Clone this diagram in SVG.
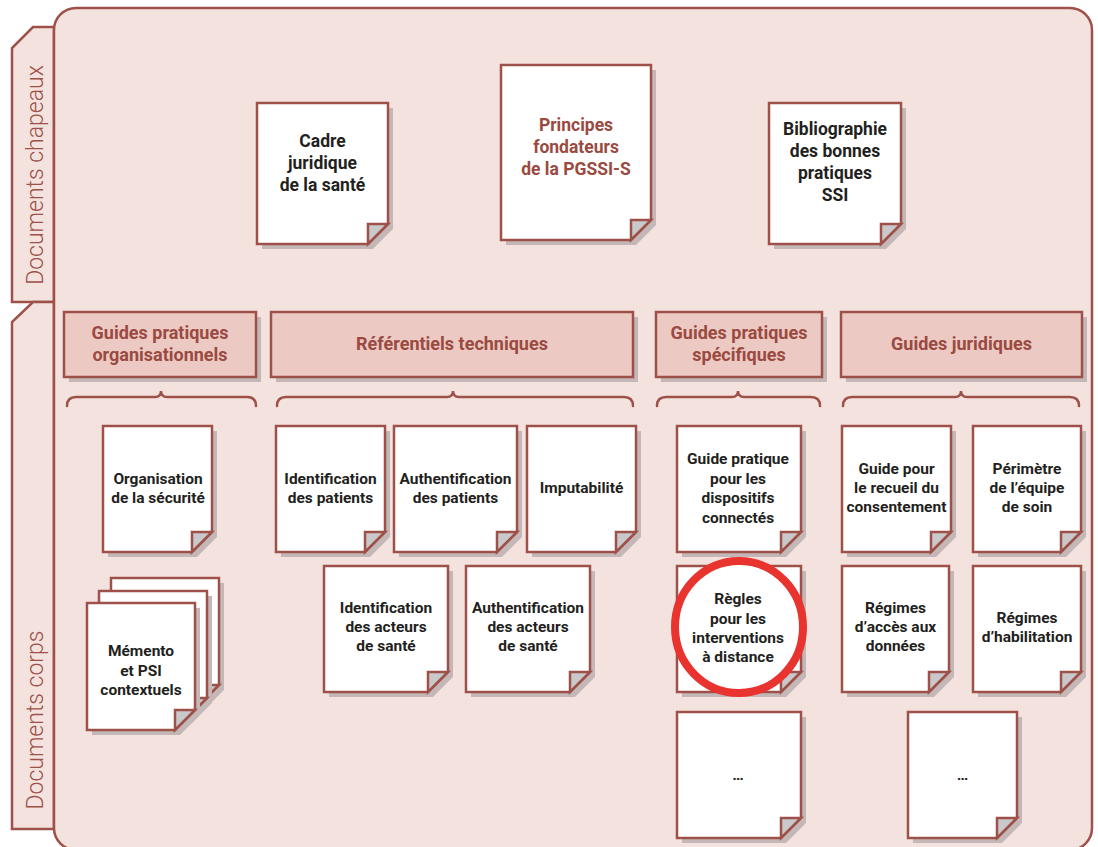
<svg xmlns="http://www.w3.org/2000/svg" width="1098" height="847" viewBox="0 0 1098 847">
<style>
.bg{fill:#f4e2df;stroke:#9e5148;stroke-width:2.5}
.tab{fill:#f4e2df;stroke:#9e5148;stroke-width:2.5;stroke-linejoin:miter}
.tabt{font-family:Roboto,"Liberation Sans",sans-serif;font-weight:300;font-size:23px;fill:#9e5148;text-anchor:middle}
.sh{fill:#c3b7b7}
.page{fill:#ffffff;stroke:#9e5148;stroke-width:2.5;stroke-linejoin:miter}
.fold{fill:#c9c9cb;stroke:#9e5148;stroke-width:2.5;stroke-linejoin:miter}
.hdr{fill:#ecc9c3;stroke:#9e5148;stroke-width:2.5}
.hdrt{font-family:Roboto,"Liberation Sans",sans-serif;font-weight:700;font-size:18px;fill:#9a4a41;text-anchor:middle}
.top{font-family:Roboto,"Liberation Sans",sans-serif;font-weight:700;font-size:17.5px;fill:#231f20;text-anchor:middle}
.topb{fill:#9a4a41}
.t{font-family:Roboto,"Liberation Sans",sans-serif;font-weight:700;font-size:15.5px;fill:#231f20;text-anchor:middle}
.brace{fill:none;stroke:#9e5148;stroke-width:2.5;stroke-linecap:round}
.ring{fill:#ffffff;stroke:#e8332f;stroke-width:8}
</style>

<g id="tab-chapeaux">
<path class="tab" d="M54,27 H33 L12,48 V302 H54 Z"/>
<text class="tabt" transform="translate(42.5,175) rotate(-90)">Documents chapeaux</text>
</g>
<g id="tab-corps">
<path class="tab" d="M54,302 H33 L12,322 V829 H54 Z"/>
<text class="tabt" transform="translate(42.5,720) rotate(-90)">Documents corps</text>
</g>

<rect id="frame" class="bg" x="54" y="8" width="1038" height="842" rx="22" ry="22"/>

<!-- top documents -->
<g id="cadre" transform="translate(257,103)">
<path class="sh" d="M5,5 h131 v121 l-20,20 h-111 z"/>
<path class="page" d="M0,0 h131 v121 l-20,20 h-111 z"/>
<path class="fold" d="M111,141 v-20 h20 z"/>
<text class="top" x="65.5" y="44">Cadre</text>
<text class="top" x="65.5" y="66">juridique</text>
<text class="top" x="65.5" y="88">de la santé</text>
</g>
<g id="principes" transform="translate(501,65)">
<path class="sh" d="M5,5 h150 v155 l-20,20 h-130 z"/>
<path class="page" d="M0,0 h150 v155 l-20,20 h-130 z"/>
<path class="fold" d="M130,175 v-20 h20 z"/>
<text class="top topb" x="75" y="66">Principes</text>
<text class="top topb" x="75" y="88">fondateurs</text>
<text class="top topb" x="75" y="110">de la PGSSI-S</text>
</g>
<g id="bibliographie" transform="translate(769,103)">
<path class="sh" d="M5,5 h132 v121 l-20,20 h-112 z"/>
<path class="page" d="M0,0 h132 v121 l-20,20 h-112 z"/>
<path class="fold" d="M112,141 v-20 h20 z"/>
<text class="top" x="66" y="32">Bibliographie</text>
<text class="top" x="66" y="54">des bonnes</text>
<text class="top" x="66" y="76">pratiques</text>
<text class="top" x="66" y="98">SSI</text>
</g>

<!-- headers -->
<g id="hdr-org">
<rect class="sh" x="69" y="317" width="192" height="65"/>
<rect class="hdr" x="64" y="312" width="192" height="65"/>
<text class="hdrt" x="160" y="339">Guides pratiques</text>
<text class="hdrt" x="160" y="361">organisationnels</text>
</g>
<g id="hdr-ref">
<rect class="sh" x="276" y="317" width="362" height="65"/>
<rect class="hdr" x="271" y="312" width="362" height="65"/>
<text class="hdrt" x="452" y="350">Référentiels techniques</text>
</g>
<g id="hdr-spec">
<rect class="sh" x="661" y="317" width="166" height="65"/>
<rect class="hdr" x="656" y="312" width="166" height="65"/>
<text class="hdrt" x="739" y="339">Guides pratiques</text>
<text class="hdrt" x="739" y="361">spécifiques</text>
</g>
<g id="hdr-jur">
<rect class="sh" x="846" y="317" width="241" height="65"/>
<rect class="hdr" x="841" y="312" width="241" height="65"/>
<text class="hdrt" x="961.5" y="350">Guides juridiques</text>
</g>

<!-- braces -->
<g id="connectors">
<path class="brace" d="M67,406 Q67,397 76,397 H155 Q161,397 161,391 Q161,397 167,397 H247 Q256,397 256,406"/>
<path class="brace" d="M277,406 Q277,397 286,397 H447 Q453,397 453,391 Q453,397 459,397 H624 Q633,397 633,406"/>
<path class="brace" d="M657,406 Q657,397 666,397 H732 Q738,397 738,391 Q738,397 744,397 H811 Q820,397 820,406"/>
<path class="brace" d="M843,406 Q843,397 852,397 H955 Q961,397 961,391 Q961,397 967,397 H1070 Q1079,397 1079,406"/>
</g>

<!-- row 1 -->
<g id="organisation" transform="translate(103,426)">
<path class="sh" d="M5,5 h109 v106 l-20,20 h-89 z"/>
<path class="page" d="M0,0 h109 v106 l-20,20 h-89 z"/>
<path class="fold" d="M89,126 v-20 h20 z"/>
<text class="t" x="55" y="58">Organisation</text>
<text class="t" x="55" y="77">de la sécurité</text>
</g>
<g id="id-patients" transform="translate(276,426)">
<path class="sh" d="M5,5 h109 v106 l-20,20 h-89 z"/>
<path class="page" d="M0,0 h109 v106 l-20,20 h-89 z"/>
<path class="fold" d="M89,126 v-20 h20 z"/>
<text class="t" x="54.5" y="58">Identification</text>
<text class="t" x="54.5" y="77">des patients</text>
</g>
<g id="auth-patients" transform="translate(394,426)">
<path class="sh" d="M5,5 h123 v106 l-20,20 h-103 z"/>
<path class="page" d="M0,0 h123 v106 l-20,20 h-103 z"/>
<path class="fold" d="M103,126 v-20 h20 z"/>
<text class="t" x="61.5" y="58">Authentification</text>
<text class="t" x="61.5" y="77">des patients</text>
</g>
<g id="imputabilite" transform="translate(527,426)">
<path class="sh" d="M5,5 h109 v106 l-20,20 h-89 z"/>
<path class="page" d="M0,0 h109 v106 l-20,20 h-89 z"/>
<path class="fold" d="M89,126 v-20 h20 z"/>
<text class="t" x="54.5" y="67">Imputabilité</text>
</g>
<g id="dispositifs" transform="translate(677,426)">
<path class="sh" d="M5,5 h124 v106 l-20,20 h-104 z"/>
<path class="page" d="M0,0 h124 v106 l-20,20 h-104 z"/>
<path class="fold" d="M104,126 v-20 h20 z"/>
<text class="t" x="61" y="38">Guide pratique</text>
<text class="t" x="61" y="57.5">pour les</text>
<text class="t" x="61" y="77">dispositifs</text>
<text class="t" x="61" y="96.5">connectés</text>
</g>
<g id="consentement" transform="translate(842,426)">
<path class="sh" d="M5,5 h109 v106 l-20,20 h-89 z"/>
<path class="page" d="M0,0 h109 v106 l-20,20 h-89 z"/>
<path class="fold" d="M89,126 v-20 h20 z"/>
<text class="t" x="54.5" y="48">Guide pour</text>
<text class="t" x="54.5" y="67">le recueil du</text>
<text class="t" x="54.5" y="86">consentement</text>
</g>
<g id="perimetre" transform="translate(973,426)">
<path class="sh" d="M5,5 h108 v106 l-20,20 h-88 z"/>
<path class="page" d="M0,0 h108 v106 l-20,20 h-88 z"/>
<path class="fold" d="M88,126 v-20 h20 z"/>
<text class="t" x="54" y="48">Périmètre</text>
<text class="t" x="54" y="67">de l’équipe</text>
<text class="t" x="54" y="86">de soin</text>
</g>

<!-- stack -->
<g id="memento">
<g transform="translate(111,578)">
<path class="sh" d="M5,5 h108 v107 l-20,20 h-88 z"/>
<path class="page" d="M0,0 h108 v107 l-20,20 h-88 z"/>
<path class="fold" d="M88,127 v-20 h20 z"/>
</g>
<g transform="translate(99,591)">
<path class="sh" d="M5,5 h108 v107 l-20,20 h-88 z"/>
<path class="page" d="M0,0 h108 v107 l-20,20 h-88 z"/>
<path class="fold" d="M88,127 v-20 h20 z"/>
</g>
<g transform="translate(87,603)">
<path class="sh" d="M5,5 h108 v107 l-20,20 h-88 z"/>
<path class="page" d="M0,0 h108 v107 l-20,20 h-88 z"/>
<path class="fold" d="M88,127 v-20 h20 z"/>
<text class="t" x="54" y="53">Mémento</text>
<text class="t" x="54" y="72.5">et PSI</text>
<text class="t" x="54" y="92">contextuels</text>
</g>
</g>

<!-- row 2 -->
<g id="id-acteurs" transform="translate(324,566)">
<path class="sh" d="M5,5 h124 v106 l-20,20 h-104 z"/>
<path class="page" d="M0,0 h124 v106 l-20,20 h-104 z"/>
<path class="fold" d="M104,126 v-20 h20 z"/>
<text class="t" x="62" y="47">Identification</text>
<text class="t" x="62" y="66">des acteurs</text>
<text class="t" x="62" y="85">de santé</text>
</g>
<g id="auth-acteurs" transform="translate(466,566)">
<path class="sh" d="M5,5 h124 v106 l-20,20 h-104 z"/>
<path class="page" d="M0,0 h124 v106 l-20,20 h-104 z"/>
<path class="fold" d="M104,126 v-20 h20 z"/>
<text class="t" x="62" y="47">Authentification</text>
<text class="t" x="62" y="66">des acteurs</text>
<text class="t" x="62" y="85">de santé</text>
</g>
<g id="regles" transform="translate(677,566)">
<path class="sh" d="M5,5 h124 v106 l-20,20 h-104 z"/>
<path class="page" d="M0,0 h124 v106 l-20,20 h-104 z"/>
<path class="fold" d="M104,126 v-20 h20 z"/>
<ellipse class="ring" cx="62" cy="61" rx="64" ry="66"/>
<text class="t" x="61" y="38">Règles</text>
<text class="t" x="61" y="57.5">pour les</text>
<text class="t" x="61" y="77">interventions</text>
<text class="t" x="61" y="96">à distance</text>
</g>
<g id="acces" transform="translate(842,566)">
<path class="sh" d="M5,5 h107 v106 l-20,20 h-87 z"/>
<path class="page" d="M0,0 h107 v106 l-20,20 h-87 z"/>
<path class="fold" d="M87,126 v-20 h20 z"/>
<text class="t" x="53.5" y="47">Régimes</text>
<text class="t" x="53.5" y="66">d’accès aux</text>
<text class="t" x="53.5" y="85">données</text>
</g>
<g id="habilitation" transform="translate(973,566)">
<path class="sh" d="M5,5 h108 v106 l-20,20 h-88 z"/>
<path class="page" d="M0,0 h108 v106 l-20,20 h-88 z"/>
<path class="fold" d="M88,126 v-20 h20 z"/>
<text class="t" x="54" y="57">Régimes</text>
<text class="t" x="54" y="76">d’habilitation</text>
</g>

<!-- row 3 -->
<g id="autres-specifiques" transform="translate(677,712)">
<path class="sh" d="M5,5 h124 v106 l-20,20 h-104 z"/>
<path class="page" d="M0,0 h124 v106 l-20,20 h-104 z"/>
<path class="fold" d="M104,126 v-20 h20 z"/>
<text class="t" x="61" y="68">…</text>
</g>
<g id="autres-juridiques" transform="translate(908,712)">
<path class="sh" d="M5,5 h109 v106 l-20,20 h-89 z"/>
<path class="page" d="M0,0 h109 v106 l-20,20 h-89 z"/>
<path class="fold" d="M89,126 v-20 h20 z"/>
<text class="t" x="54.5" y="68">…</text>
</g>
</svg>
